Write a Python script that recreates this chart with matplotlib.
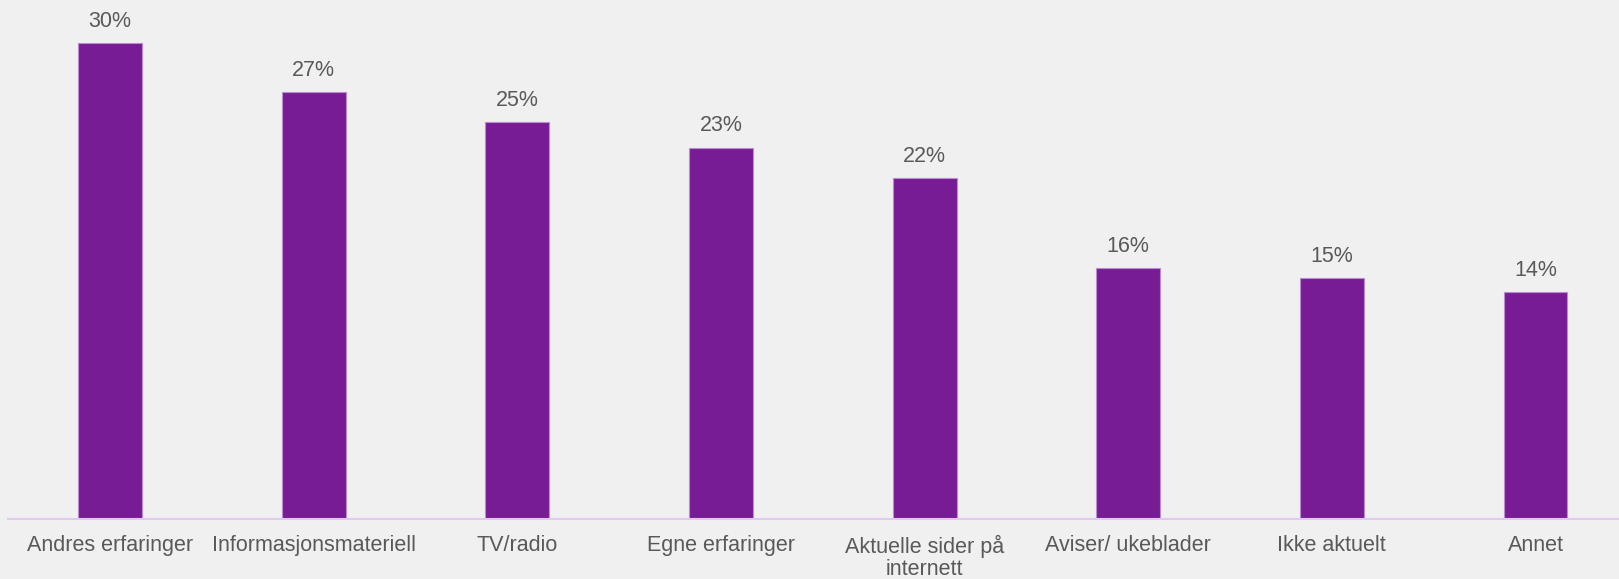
import matplotlib.pyplot as plt

categories = [
    "Andres erfaringer",
    "Informasjonsmateriell",
    "TV/radio",
    "Egne erfaringer",
    "Aktuelle sider på\ninternett",
    "Aviser/ ukeblader",
    "Ikke aktuelt",
    "Annet",
]
values = [30.0, 26.9, 25.0, 23.4, 21.5, 15.8, 15.2, 14.3]
labels = ["30%", "27%", "25%", "23%", "22%", "16%", "15%", "14%"]

BG = "#F0F0F0"
BAR = "#781C96"
TEXT = "#595959"

plt.rcParams["font.family"] = ["Liberation Sans", "DejaVu Sans"]

fig = plt.figure(figsize=(16.19, 5.79), dpi=100, facecolor=BG)
ax = fig.add_axes([8 / 1619, 1 - 519.3 / 579, 1 - 8 / 1619, 519.3 / 579])
ax.set_facecolor(BG)

x = list(range(len(categories)))
bars = ax.bar(x, values, width=0.314, color=BAR, edgecolor="#B98BD0", linewidth=0.8)

for b, lab in zip(bars, labels):
    ax.annotate(lab, (b.get_x() + b.get_width() / 2, b.get_height()),
                xytext=(0, 8), textcoords="offset points",
                ha="center", va="bottom", fontsize=15.5, color=TEXT)

ax.set_xlim(-0.501, 7.41)
ax.set_ylim(0, 32.69)
ax.set_xticks(x)
ax.set_xticklabels(categories, fontsize=15.5, color=TEXT, linespacing=1.05)
ax.tick_params(axis="x", length=0, pad=11)
ax.set_yticks([])

for side in ["top", "right", "left"]:
    ax.spines[side].set_visible(False)
ax.spines["bottom"].set_color("#E0C8F0")
ax.spines["bottom"].set_linewidth(1.5)

fig.savefig("out.png", dpi=100, facecolor=BG)
